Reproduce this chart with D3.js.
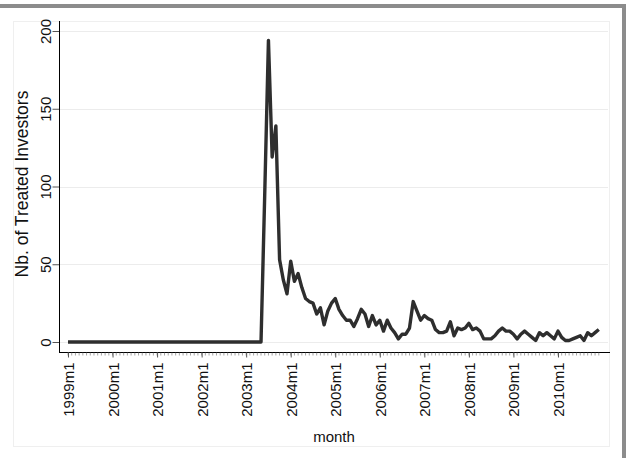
<!DOCTYPE html>
<html>
<head>
<meta charset="utf-8">
<script src="https://cdn.jsdelivr.net/npm/d3@7"></script>
<style>
  body { margin: 0; background: #fff; }
  text { font-family: "Liberation Sans", Arial, sans-serif; }
</style>
</head>
<body>
<script>
const w = 628, h = 458;

// months since 1999m1, one value per month (1999m1 .. 2010m12)
const treated = [
  0, 0, 0, 0, 0, 0, 0, 0, 0, 0, 0, 0,          // 1999
  0, 0, 0, 0, 0, 0, 0, 0, 0, 0, 0, 0,          // 2000
  0, 0, 0, 0, 0, 0, 0, 0, 0, 0, 0, 0,          // 2001
  0, 0, 0, 0, 0, 0, 0, 0, 0, 0, 0, 0,          // 2002
  0, 0, 0, 0, 0, 95, 194, 119, 139, 53, 40, 31, // 2003
  52, 39, 44, 35, 28, 26, 25, 18, 22, 11, 20, 25, // 2004
  28, 21, 17, 14, 14, 10, 15, 21, 18, 10, 17, 11, // 2005
  14, 7, 14, 9, 6, 2, 5, 5, 9, 26, 20, 14,      // 2006
  17, 15, 14, 8, 6, 6, 7, 13, 4, 9, 8, 9,       // 2007
  12, 8, 9, 7, 2, 2, 2, 4, 7, 9, 7, 7,          // 2008
  5, 2, 5, 7, 5, 3, 1, 6, 4, 6, 4, 2,           // 2009
  7, 3, 1, 1, 2, 3, 4, 1, 6, 4, 6, 8            // 2010
];
const years = [1999, 2000, 2001, 2002, 2003, 2004, 2005, 2006, 2007, 2008, 2009, 2010];
const yearLabels = years.map(y => y + 'm1');
const yTicks = [0, 50, 100, 150, 200];

const x = d3.scaleLinear().domain([0, 143]).range([68, 598.8]);
const y = d3.scaleLinear().domain([0, 200]).range([342, 31]);

const svg = d3.select('body').append('svg')
    .attr('width', w)
    .attr('height', h);

svg.append('rect').attr('width', w).attr('height', h).attr('fill', '#fff');

// outer frame (top and right grey bands)
svg.append('rect').attr('x', 0).attr('y', 4).attr('width', 626).attr('height', 4).attr('fill', '#8c8c8c');
svg.append('rect').attr('x', 622).attr('y', 4).attr('width', 4).attr('height', h).attr('fill', '#8c8c8c');

// faint graph region outline
svg.append('rect')
    .attr('x', 13.5).attr('y', 21.5)
    .attr('width', 596).attr('height', 425)
    .attr('fill', 'none')
    .attr('stroke', '#efefef');

// gridlines
svg.append('g')
    .selectAll('line')
    .data(yTicks)
    .join('line')
    .attr('x1', 59).attr('x2', 608)
    .attr('y1', d => Math.round(y(d)) + 0.5)
    .attr('y2', d => Math.round(y(d)) + 0.5)
    .attr('stroke', '#ececec');

// y axis
const yAxis = svg.append('g')
    .attr('transform', 'translate(59.5,0)')
    .call(d3.axisLeft(y).tickValues(yTicks).tickSize(7).tickSizeOuter(0).tickPadding(0));
yAxis.select('.domain').remove();
yAxis.append('line').attr('y1', 21).attr('y2', 352).attr('stroke', '#000');
yAxis.selectAll('.tick line').attr('stroke', '#555');
yAxis.selectAll('.tick text')
    .attr('font-size', 15)
    .attr('fill', '#111')
    .attr('text-anchor', 'middle')
    .attr('x', 0).attr('dy', 0)
    .attr('transform', 'translate(-14,0) rotate(-90)')
    .attr('y', 0)
    .attr('dominant-baseline', 'central');

// x axis: minor ticks every month, major every year
const months = d3.range(0, 144);
const xg = svg.append('g').attr('transform', 'translate(0,352.5)');
xg.append('line').attr('x1', 59).attr('x2', 610).attr('stroke', '#000');
xg.selectAll('line.minor')
    .data(months)
    .join('line')
    .attr('class', 'minor')
    .attr('x1', d => x(d)).attr('x2', d => x(d))
    .attr('y1', 0).attr('y2', 3)
    .attr('stroke', '#666')
    .attr('stroke-width', 0.6);
const xAxis = xg.append('g')
    .call(d3.axisBottom(x).tickValues(years.map((yr, i) => i * 12))
        .tickFormat((d, i) => yearLabels[i]).tickSize(5).tickSizeOuter(0));
xAxis.select('.domain').remove();
xAxis.selectAll('.tick line').attr('stroke', '#555');
xAxis.selectAll('.tick text')
    .attr('font-size', 15)
    .attr('fill', '#111')
    .attr('text-anchor', 'end')
    .attr('dy', 0)
    .attr('y', 0)
    .attr('transform', 'translate(0,10) rotate(-90)')
    .attr('dominant-baseline', 'central');

// titles
svg.append('text')
    .attr('x', 334).attr('y', 442)
    .attr('text-anchor', 'middle')
    .attr('font-size', 15)
    .attr('fill', '#111')
    .text('month');
svg.append('text')
    .attr('transform', 'translate(22,184) rotate(-90)')
    .attr('text-anchor', 'middle')
    .attr('dominant-baseline', 'central')
    .attr('font-size', 17.5)
    .attr('fill', '#111')
    .text('Nb. of Treated Investors');

// the series
const line = d3.line()
    .x((d, i) => x(i))
    .y(d => y(d));
svg.append('path')
    .datum(treated)
    .attr('d', line)
    .attr('fill', 'none')
    .attr('stroke', '#2e2e2e')
    .attr('stroke-width', 3.4)
    .attr('stroke-linejoin', 'round');
</script>
</body>
</html>
